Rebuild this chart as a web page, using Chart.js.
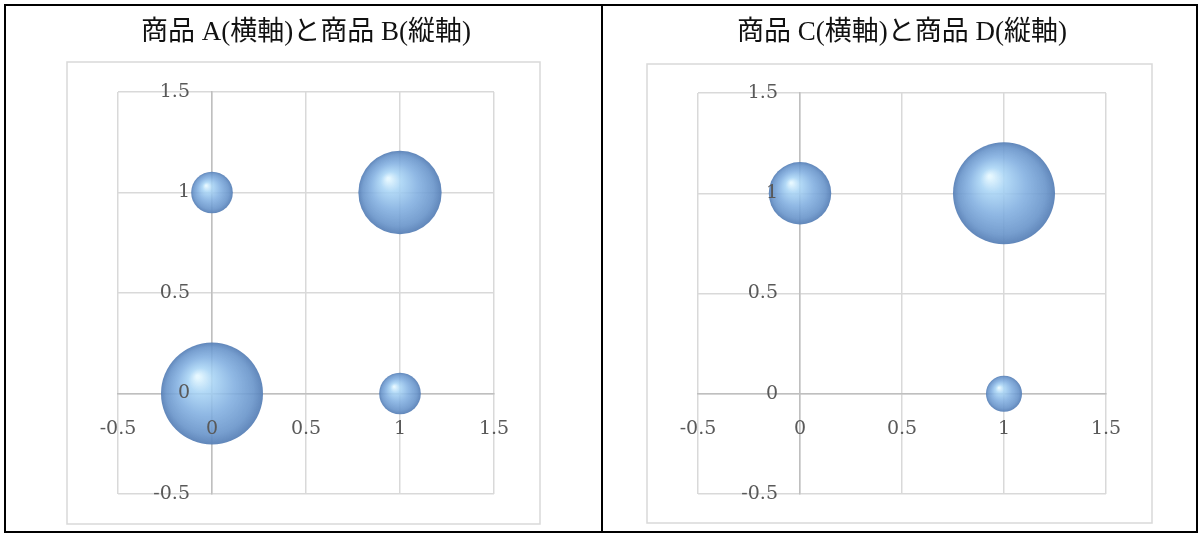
<!DOCTYPE html>
<html>
<head>
<meta charset="utf-8">
<script src="https://cdn.jsdelivr.net/npm/chart.js@4.4.1/dist/chart.umd.min.js"></script>
<style>
  html, body { margin: 0; padding: 0; background: #fff; }
  #frame {
    position: absolute; left: 4px; top: 4px;
    border: 2px solid #000;
    display: flex;
  }
  #frame canvas { display: block; }
  #cellA { border-right: 2px solid #000; }
</style>
</head>
<body>
<div id="frame">
  <div id="cellA"><canvas id="chartAB" width="595" height="525"></canvas></div>
  <div id="cellB"><canvas id="chartCD" width="593" height="525"></canvas></div>
</div>
<script>
/*==== data ====*/
const titles = ['商品 A(横軸)と商品 B(縦軸)', '商品 C(横軸)と商品 D(縦軸)'];
// axis ticks (same on both axes)
const tickValues = [-0.5, 0, 0.5, 1, 1.5];
const tickLabels = ['-0.5', '0', '0.5', '1', '1.5'];
// left chart: A (x) / B (y), bubble size = count
const abX = [0, 1, 0, 1];
const abY = [0, 0, 1, 1];
const abCount = [6, 1, 1, 4];
// right chart: C (x) / D (y)
const cdX = [0, 1, 0, 1];
const cdY = [0, 0, 1, 1];
const cdCount = [0, 1, 3, 8];

/*==== helpers ====*/
const MAX_R = 51;
function toPoints(xs, ys, counts) {
    const maxC = Math.max(...counts);
    return xs.map((x, i) => ({ x: x, y: ys[i], r: MAX_R * Math.sqrt(counts[i] / maxC) }));
}

// linear scale whose y labels keep their padding when the axis crosses at 0
class CrossScale extends Chart.LinearScale {
    _computeLabelItems(chartArea) {
        const items = super._computeLabelItems(chartArea);
        if (this.axis === 'y') {
            const pad = this.options.ticks.padding;
            items.forEach(it => { it.options.translation[0] -= pad; });
        }
        return items;
    }
}
CrossScale.id = 'crossLinear';
CrossScale.defaults = Chart.LinearScale.defaults;
Chart.register(CrossScale);

// glossy sphere fill, built from the scale position of each bubble
function sphereFill(ctx) {
    const flat = 'rgba(125,172,222,0.9)';
    const chart = ctx.chart;
    const raw = ctx.raw;
    if (ctx.type !== 'data' || !raw || !chart.scales.x || !chart.scales.y) return flat;
    const cx = chart.scales.x.getPixelForValue(raw.x);
    const cy = chart.scales.y.getPixelForValue(raw.y);
    const r = Math.max(raw.r, 1);
    if (!isFinite(cx) || !isFinite(cy) || !isFinite(r)) return flat;
    const g = chart.ctx.createRadialGradient(cx - r * 0.28, cy - r * 0.33, r * 0.03, cx, cy, r);
    g.addColorStop(0, 'rgba(228,247,255,0.92)');
    g.addColorStop(0.22, 'rgba(168,212,245,0.88)');
    g.addColorStop(0.55, 'rgba(128,174,224,0.88)');
    g.addColorStop(0.85, 'rgba(104,148,202,0.9)');
    g.addColorStop(1, 'rgba(88,128,182,0.95)');
    return g;
}

// light grey frame around the chart object
const chartFrame = {
    id: 'chartFrame',
    beforeDraw(chart, args, opts) {
        const c = chart.ctx;
        c.save();
        c.strokeStyle = '#d9d9d9';
        c.lineWidth = 1.5;
        c.strokeRect(opts.left, opts.top, opts.right - opts.left, opts.bottom - opts.top);
        c.restore();
    }
};

function makeScale(axis, other, pad) {
    return {
        type: 'crossLinear',
        axis: axis,
        position: { [other]: 0 },
        min: -0.5,
        max: 1.5,
        afterBuildTicks: (scale) => { scale.ticks = tickValues.map(v => ({ value: v })); },
        grid: { color: '#d9d9d9', lineWidth: 1.5, drawTicks: false, z: -1 },
        border: { color: '#bfbfbf', width: 1.5 },
        ticks: {
            z: 1,
            padding: pad,
            color: '#595959',
            font: { family: "'DejaVu Serif', serif", size: 19 },
            callback: (v) => tickLabels[tickValues.indexOf(v)]
        }
    };
}

function makeConfig(title, points, pad, frame, titlePad) {
    return {
        type: 'bubble',
        data: {
            datasets: [{
                data: points,
                backgroundColor: sphereFill,
                borderWidth: 0
            }]
        },
        plugins: [chartFrame],
        options: {
            responsive: false,
            animation: false,
            layout: { padding: pad, autoPadding: false },
            scales: {
                x: makeScale('x', 'y', 24),
                y: makeScale('y', 'x', 22)
            },
            plugins: {
                legend: { display: false },
                tooltip: { enabled: false },
                chartFrame: frame,
                title: {
                    display: true,
                    text: title,
                    color: '#111',
                    font: { family: "'Liberation Serif', 'Noto Sans CJK JP', serif", size: 27, weight: 'normal', lineHeight: 1.2 },
                    padding: titlePad
                }
            }
        }
    };
}

/*===== render =====*/
new Chart(document.getElementById('chartAB'), makeConfig(
    titles[0], toPoints(abX, abY, abCount),
    { left: 112, right: 107, bottom: 37, top: 0 },
    { left: 61, top: 56, right: 534, bottom: 518 },
    { top: 11, bottom: 42.6 }
));
new Chart(document.getElementById('chartCD'), makeConfig(
    titles[1], toPoints(cdX, cdY, cdCount),
    { left: 95, right: 90, bottom: 37, top: 0 },
    { left: 44, top: 58, right: 549, bottom: 517 },
    { top: 11, bottom: 43.6 }
));
</script>
</body>
</html>
